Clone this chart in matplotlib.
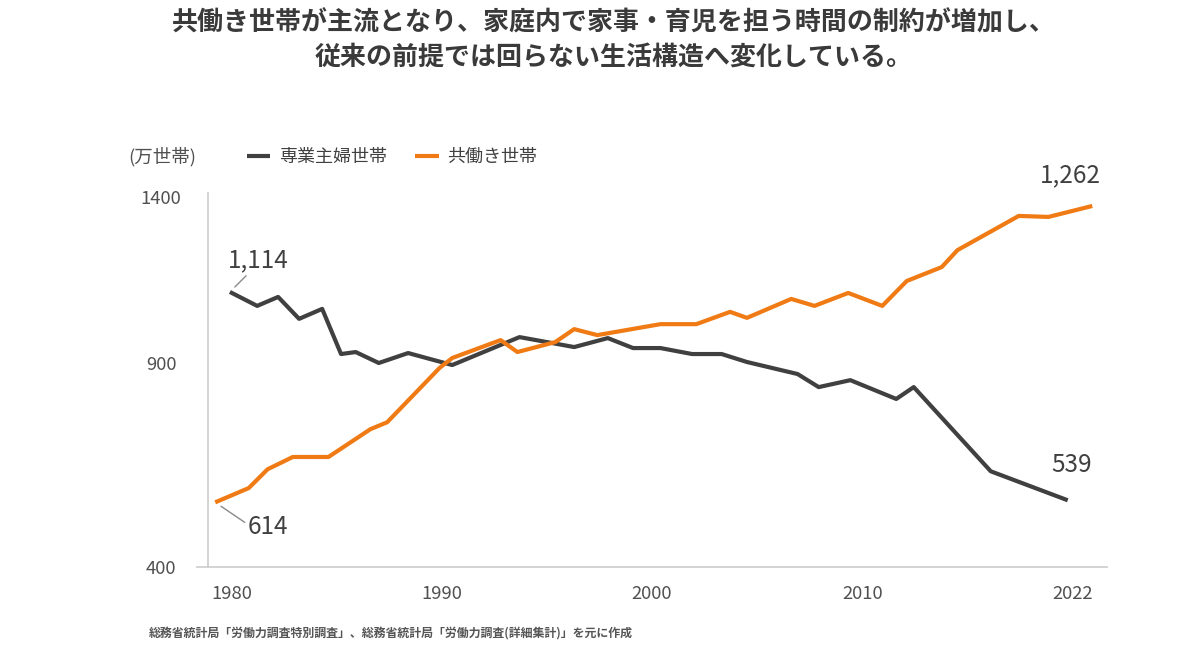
import numpy as np
import matplotlib
matplotlib.use("Agg")
import matplotlib.pyplot as plt

plt.rcParams['font.family'] = ['Noto Sans CJK JP', 'DejaVu Sans']

# ---------------- data ----------------
# 共働き世帯 (dual-income households), 万世帯
fw_years = [1979.2, 1980.8, 1981.7, 1982.9, 1984.6, 1986.6, 1987.4, 1989.9, 1990.5,
            1992.8, 1993.6, 1995.4, 1996.3, 1997.4, 2000.4, 2002.1, 2003.7, 2004.5,
            2006.6, 2007.7, 2009.3, 2011.1, 2012.5, 2014.5, 2015.4, 2018.9, 2020.6, 2023.1]
fw_values = [559, 594, 640, 670, 670, 738, 755, 888, 915,
             969, 933, 963, 1002, 984, 1017, 1017, 1054, 1036,
             1093, 1072, 1111, 1072, 1147, 1189, 1240, 1343, 1340, 1373]

# 専業主婦世帯 (single-income households), 万世帯
sh_years = [1979.9, 1981.2, 1982.2, 1983.2, 1984.3, 1985.2, 1985.9, 1987.0, 1988.4,
            1990.5, 1993.7, 1996.3, 1997.9, 1999.1, 2000.4, 2001.9, 2003.3, 2004.5,
            2006.9, 2007.9, 2009.4, 2011.9, 2012.9, 2017.3, 2021.7]
sh_values = [1114, 1072, 1099, 1033, 1063, 927, 933, 900, 930,
             895, 978, 948, 975, 945, 945, 927, 927, 903,
             873, 841, 858, 812, 841, 635, 564]

series_names = ['専業主婦世帯', '共働き世帯']
x_ticks = [1980, 1990, 2000, 2010, 2022]
y_ticks = [400, 900, 1400]
end_labels = ['1,114', '539', '614', '1,262']   # sh start, sh end, fw start, fw end

title_lines = ['共働き世帯が主流となり、家庭内で家事・育児を担う時間の制約が増加し、',
               '従来の前提では回らない生活構造へ変化している。']
unit_label = '(万世帯)'
source_note = '総務省統計局「労働力調査特別調査」、総務省統計局「労働力調査(詳細集計)」を元に作成'

# ---------------- layout ----------------
W, H = 1200, 654
DARK = '#404040'
ORANGE = '#F07B14'
AXIS = '#d0d0d0'
TXT = '#505050'

fig = plt.figure(figsize=(W / 100, H / 100), dpi=100)
fig.patch.set_facecolor('white')
ax_l, ax_r, ax_t, ax_b = 197, 1107, 192.7, 567.3
ax = fig.add_axes([ax_l / W, 1 - ax_b / H, (ax_r - ax_l) / W, (ax_b - ax_t) / H])


def piecewise(src, dst):
    src = np.asarray(src, float)
    dst = np.asarray(dst, float)
    s0 = (dst[1] - dst[0]) / (src[1] - src[0])
    s1 = (dst[-1] - dst[-2]) / (src[-1] - src[-2])

    def f(v):
        v = np.asarray(v, float)
        out = np.interp(v, src, dst)
        out = np.where(v < src[0], dst[0] + (v - src[0]) * s0, out)
        out = np.where(v > src[-1], dst[-1] + (v - src[-1]) * s1, out)
        return out
    return f


# axis spacing as drawn in the original (evenly spaced labels)
x_px = [232, 441.7, 652, 863, 1073]
y_px = [H - 567.3, H - 363, H - 197]
x_fwd, x_inv = piecewise(x_ticks, x_px), piecewise(x_px, x_ticks)
y_fwd, y_inv = piecewise(y_ticks, y_px), piecewise(y_px, y_ticks)
ax.set_xscale('function', functions=(x_fwd, x_inv))
ax.set_yscale('function', functions=(y_fwd, y_inv))
ax.set_xlim(float(x_inv(ax_l)), float(x_inv(ax_r)))
ax.set_ylim(float(y_inv(H - ax_b)), float(y_inv(H - ax_t)))

l_sh, = ax.plot(sh_years, sh_values, color=DARK, lw=3, label=series_names[0],
                clip_on=False, solid_capstyle='butt')
l_fw, = ax.plot(fw_years, fw_values, color=ORANGE, lw=3, label=series_names[1],
                clip_on=False, solid_capstyle='butt')

# spines
for s in ['top', 'right']:
    ax.spines[s].set_visible(False)
ax.spines['left'].set_position(('axes', (207.7 - ax_l) / (ax_r - ax_l)))
for s in ['left', 'bottom']:
    ax.spines[s].set_color(AXIS)
    ax.spines[s].set_linewidth(1.3)

ax.set_xticks(x_ticks)
ax.set_xticklabels([str(v) for v in x_ticks])
ax.set_yticks(y_ticks)
ax.set_yticklabels([str(v) for v in y_ticks])
ax.minorticks_off()
ax.tick_params(axis='x', length=0, pad=13, labelsize=13.3, labelcolor=TXT)
ax.tick_params(axis='y', length=0, pad=33.5, labelsize=13.3, labelcolor=TXT)
for lab in ax.get_yticklabels():
    lab.set_horizontalalignment('center')

# value labels
lead = dict(arrowstyle='-', color='#8a8a8a', lw=1.0, shrinkA=0)
ax.annotate(end_labels[0], xy=(sh_years[0], sh_values[0]), xytext=(20.2, 23.0),
            textcoords='offset points', ha='center', va='center', fontsize=17.5, color=DARK,
            arrowprops=dict(lead, relpos=(0.35, 0.0), shrinkB=5))
ax.annotate(end_labels[1], xy=(sh_years[-1], sh_values[-1]), xytext=(2.9, 25.2),
            textcoords='offset points', ha='center', va='center', fontsize=17.5, color=DARK)
ax.annotate(end_labels[2], xy=(fw_years[0], fw_values[0]), xytext=(37.8, -18.0),
            textcoords='offset points', ha='center', va='center', fontsize=17.5, color=DARK,
            arrowprops=dict(lead, relpos=(0.0, 0.62), shrinkB=5))
ax.annotate(end_labels[3], xy=(fw_years[-1], fw_values[-1]), xytext=(-15.8, 22.3),
            textcoords='offset points', ha='center', va='center', fontsize=17.5, color=DARK)

# legend + unit
fig.text(128 / W, 1 - 157 / H, unit_label, ha='left', va='center', fontsize=13.3, color=TXT)
fig.legend(handles=[l_sh, l_fw], loc='center left', bbox_to_anchor=(247 / W, 1 - 157 / H),
           bbox_transform=fig.transFigure, ncol=2, frameon=False, fontsize=13,
           handlelength=1.3, handletextpad=0.45, columnspacing=1.6,
           borderpad=0, borderaxespad=0, labelcolor=DARK)

# title
fig.text(614 / W, 1 - 23 / H, title_lines[0], ha='center', va='center',
         fontsize=18.7, fontweight='bold', color='#3a3a3a')
fig.text(614 / W, 1 - 57 / H, title_lines[1], ha='center', va='center',
         fontsize=18.7, fontweight='bold', color='#3a3a3a')

# source
fig.text(149 / W, 1 - 634 / H, source_note, ha='left', va='center', fontsize=8.6,
         color='#555555', fontweight='bold')

fig.savefig('out.png', dpi=100, facecolor='white')
